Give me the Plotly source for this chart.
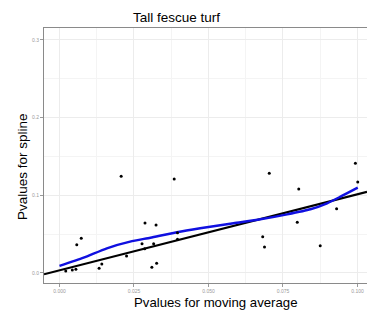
import plotly.graph_objects as go

# Scatter points: p-values for moving average (x) vs spline (y)
pts_x = [0.0207, 0.0385, 0.0287, 0.0324, 0.0073, 0.0058, 0.0277, 0.0316, 0.0396, 0.0396,
         0.0286, 0.0225, 0.0142, 0.0133, 0.0326, 0.0310, 0.0055, 0.0021, 0.0043,
         0.0993, 0.0704, 0.0803, 0.1001, 0.0930, 0.0798, 0.0682, 0.0688, 0.0875]
pts_y = [0.1245, 0.1210, 0.0644, 0.0618, 0.0447, 0.0364, 0.0377, 0.0377, 0.0519, 0.0434,
         0.0313, 0.0219, 0.0116, 0.0060, 0.0125, 0.0073, 0.0048, 0.0026, 0.0039,
         0.1412, 0.1283, 0.1081, 0.1171, 0.0828, 0.0653, 0.0467, 0.0335, 0.0351]

# Smooth (blue) curve
smooth_x = [0.0, 0.0081, 0.0159, 0.0237, 0.0305, 0.0394, 0.0472, 0.0584, 0.0674, 0.0764,
            0.0842, 0.0898, 0.0943, 0.1001]
smooth_y = [0.0090, 0.0197, 0.0318, 0.0403, 0.0454, 0.0524, 0.0575, 0.0640, 0.0691, 0.0755,
            0.0820, 0.0897, 0.0982, 0.1098]

# Linear fit (black) line
fit_x = [-0.0052, 0.1032]
fit_y = [-0.0017, 0.1045]

x_ticks = [0.0, 0.025, 0.05, 0.075, 0.1]
x_ticklabels = ["0.000", "0.025", "0.050", "0.075", "0.100"]
y_ticks = [0.0, 0.1, 0.2, 0.3]
y_ticklabels = ["0.0", "0.1", "0.2", "0.3"]

title_text = "Tall fescue turf"
x_title = "Pvalues for moving average"
y_title = "Pvalues for spline"

W, H = 367, 311
L, R, T, B = 44, 0, 28, 28
PW, PH = W - L - R, H - T - B

fig = go.Figure()
fig.add_trace(go.Scatter(x=fit_x, y=fit_y, mode="lines",
                         line=dict(color="black", width=2.2), showlegend=False))
fig.add_trace(go.Scatter(x=smooth_x, y=smooth_y, mode="lines", line_shape="spline",
                         line=dict(color="#1010e0", width=2.4, smoothing=0.6), showlegend=False))
fig.add_trace(go.Scatter(x=pts_x, y=pts_y, mode="markers",
                         marker=dict(color="black", size=3.0), showlegend=False))

axis_common = dict(showline=True, linecolor="#8a8a8a", linewidth=1, mirror=True,
                   showgrid=True, gridcolor="#ececec", gridwidth=1,
                   ticks="outside", ticklen=3, tickcolor="#9a9a9a", tickwidth=1,
                   tickfont=dict(size=5, color="#9a9a9a", family="Liberation Sans"),
                   zeroline=False)

fig.update_layout(
    width=W, height=H,
    margin=dict(l=L, r=R, t=T, b=B, pad=0),
    paper_bgcolor="white", plot_bgcolor="white",
    xaxis=dict(range=[-0.0052, 0.1032], tickvals=x_ticks, ticktext=x_ticklabels,
               minor=dict(dtick=0.0125, tick0=0, showgrid=True, gridcolor="#f4f4f4", gridwidth=1),
               **axis_common),
    yaxis=dict(range=[-0.0129, 0.3153], tickvals=y_ticks, ticktext=y_ticklabels,
               minor=dict(dtick=0.05, tick0=0, showgrid=True, gridcolor="#f4f4f4", gridwidth=1),
               **axis_common),
    annotations=[
        dict(text=title_text, xref="paper", yref="paper",
             x=(176 - L) / PW, y=(H - B - 18) / PH,
             showarrow=False, font=dict(size=13.5, color="black", family="Liberation Sans"),
             xanchor="center", yanchor="middle"),
        dict(text=x_title, xref="paper", yref="paper",
             x=(215 - L) / PW, y=-(302 - (H - B)) / PH,
             showarrow=False, font=dict(size=13.2, color="black", family="Liberation Sans"),
             xanchor="center", yanchor="middle"),
        dict(text=y_title, xref="paper", yref="paper",
             x=-(L - 22) / PW, y=(H - B - 167) / PH,
             textangle=-90,
             showarrow=False, font=dict(size=13.5, color="black", family="Liberation Sans"),
             xanchor="center", yanchor="middle"),
    ],
)

fig.write_html("out.html", config={"displayModeBar": False},
               post_script="document.body.style.margin='0';document.body.style.overflow='hidden';")
